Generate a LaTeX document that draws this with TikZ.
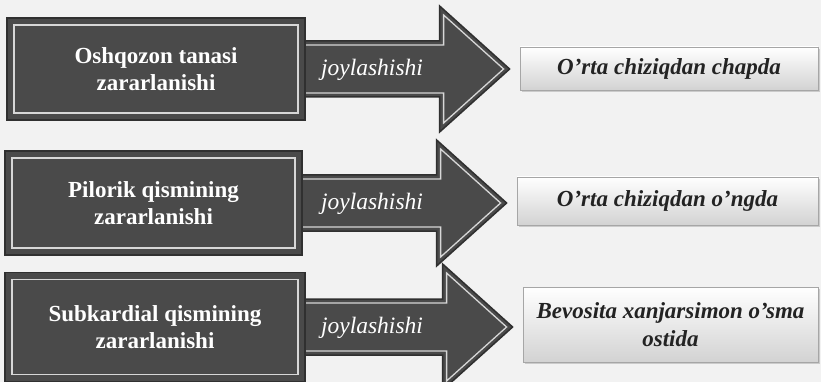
\documentclass[tikz,border=0pt]{standalone}
\usepackage{fontspec}
\setmainfont{Liberation Serif}
\usetikzlibrary{calc,shadows}
\pgfdeclarelayer{back}
\pgfdeclarelayer{arr}
\pgfsetlayers{back,arr,main}
\definecolor{bgc}{RGB}{242,242,242}
\definecolor{darkfill}{RGB}{74,74,74}
\definecolor{darkedge}{RGB}{48,48,48}
\definecolor{lightline}{RGB}{215,215,215}
\definecolor{txtdark}{RGB}{35,35,35}
\tikzset{
 darkbox/.style={draw=darkedge, line width=1.5pt, fill=darkfill, text=white,
   font=\fontsize{23}{27}\selectfont\bfseries, align=center, inner sep=0pt,
   path picture={\draw[lightline, line width=1.3pt]
     ([shift={(7pt,-7pt)}]path picture bounding box.north west) rectangle
     ([shift={(-7pt,7pt)}]path picture bounding box.south east);}},
 resultbox/.style={draw=gray!70, line width=0.8pt, top color=white, bottom color=gray!35,
   drop shadow={shadow xshift=2pt, shadow yshift=-2pt, fill=gray!70},
   text=txtdark, font=\fontsize{23}{28}\selectfont\bfseries\itshape, align=center, inner sep=0pt},
 arrowbody/.style={fill=darkfill, draw=darkedge, line width=1.5pt, line join=miter},
 arrowline/.style={draw=lightline, line width=1.3pt},
 verb/.style={text=white, font=\fontsize{23.5}{26}\selectfont\itshape, inner sep=0pt}
}
\begin{document}
\begin{tikzpicture}[x=1pt,y=-1pt]
\begin{pgfonlayer}{back}
\fill[bgc] (0,0) rectangle (821,382);
\end{pgfonlayer}
\useasboundingbox (0,0) rectangle (821,382);

\node[darkbox, minimum width=298pt, minimum height=102pt] (b1) at (156,69) {Oshqozon tanasi\\zararlanishi};
\node[darkbox, minimum width=297pt, minimum height=104pt] (b2) at (153.5,203) {Pilorik qismining\\zararlanishi};
\node[darkbox, minimum width=300pt, minimum height=109pt] (b3) at (155,327) {Subkardial qismining\\zararlanishi};

\node[resultbox, minimum width=298pt, minimum height=43pt] (t1) at (669,68.5) {O'rta chiziqdan chapda};
\node[resultbox, minimum width=301pt, minimum height=48pt] (t2) at (667.5,201) {O'rta chiziqdan o'ngda};
\node[resultbox, minimum width=295pt, minimum height=75pt] (t3) at (670.5,324.5) {Bevosita xanjarsimon o'sma\\ostida};

\begin{pgfonlayer}{arr}
\foreach \i in {1,2,3}{
 \path[arrowbody] let \p1=(b\i.center), \p2=(b\i.east), \p3=(t\i.west) in
   (\x2-6pt,\y1+28pt) -- (\x3-80pt,\y1+28pt) -- (\x3-80pt,\y1+63pt) -- (\x3-10pt,\y1)
   -- (\x3-80pt,\y1-63pt) -- (\x3-80pt,\y1-28pt) -- (\x2-6pt,\y1-28pt) -- cycle;
 \draw[arrowline] let \p1=(b\i.center), \p2=(b\i.east), \p3=(t\i.west) in
   (\x2-6pt,\y1+24pt) -- (\x3-76pt,\y1+24pt) -- (\x3-76pt,\y1+54pt) -- (\x3-16pt,\y1)
   -- (\x3-76pt,\y1-54pt) -- (\x3-76pt,\y1-24pt) -- (\x2-6pt,\y1-24pt);
}
\end{pgfonlayer}

\node[verb] (j1) at (372,70) {joylashishi};
\node[verb] (j2) at (372,204) {joylashishi};
\node[verb] (j3) at (372,328) {joylashishi};
\end{tikzpicture}
\end{document}
